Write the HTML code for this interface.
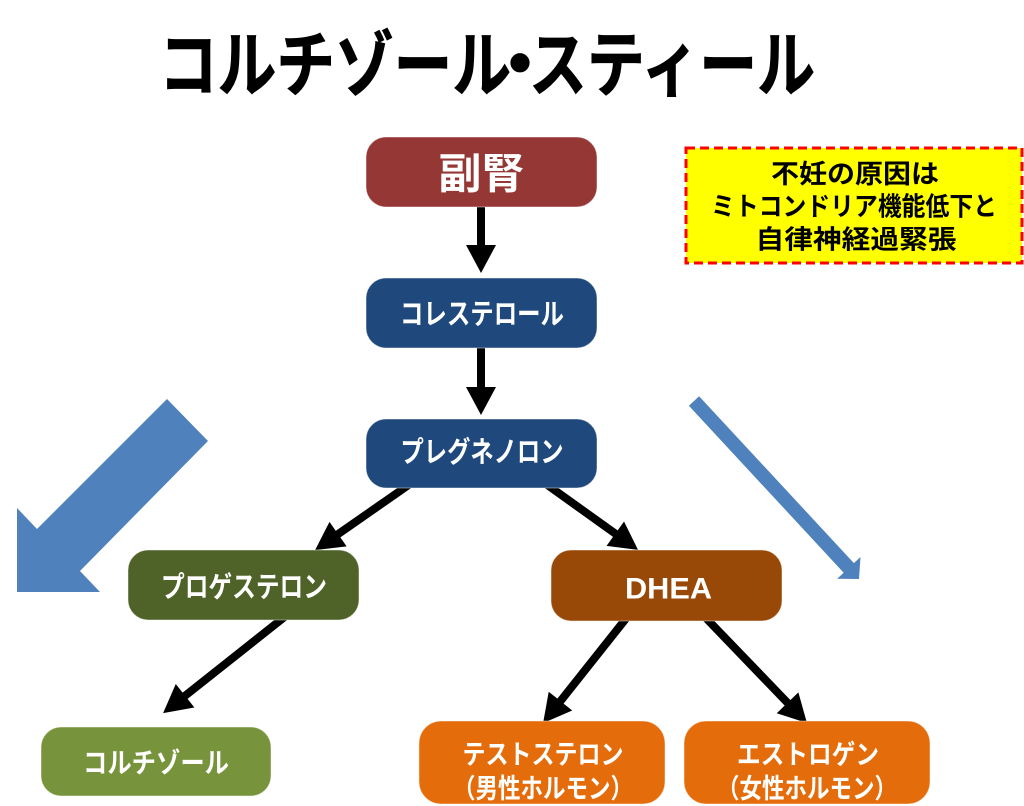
<!DOCTYPE html>
<html>
<head>
<meta charset="utf-8">
<style>
  html,body{margin:0;padding:0;background:#fff;}
  svg{display:block;}
  text{font-family:"Liberation Sans","Noto Sans CJK JP",sans-serif;font-weight:bold;}
</style>
</head>
<body>
<svg width="1024" height="806" viewBox="0 0 1024 806" xmlns="http://www.w3.org/2000/svg">
  <defs>
    <marker id="ah" markerUnits="userSpaceOnUse" markerWidth="30" markerHeight="30" refX="8" refY="15" orient="auto" overflow="visible">
      <path d="M0,0 L28,15 L0,30 Z" fill="#000"/>
    </marker>
  </defs>

  <!-- Title -->
  <g fill="#000" stroke="#000" stroke-width="0.8" font-size="72" font-weight="900" text-anchor="middle" dominant-baseline="central">
    <text x="335" y="66.5" textLength="352" lengthAdjust="spacingAndGlyphs">コルチゾール</text>
    <text x="520" y="66.5">・</text>
    <text x="672" y="66.5" textLength="286" lengthAdjust="spacingAndGlyphs">スティール</text>
  </g>

  <!-- Blue arrows -->
  <polygon points="167,399 208,441 80,571 100,592 17,592 17,508 37,529" fill="#4F81BD"/>
  <polygon points="699.1,396.2 853.9,563.1 860.5,557 859,579 837.1,578.8 843.7,572.7 688.9,405.8" fill="#4F81BD"/>

  <!-- Black connectors -->
  <g stroke="#000" stroke-width="8" fill="none" marker-end="url(#ah)">
    <line x1="481" y1="200" x2="481" y2="253"/>
    <line x1="481" y1="340" x2="481" y2="395"/>
    <line x1="410" y1="484" x2="331.5" y2="538.7"/>
    <line x1="546" y1="484" x2="621.8" y2="538.3"/>
    <line x1="287" y1="615" x2="178.8" y2="700.7"/>
    <line x1="628" y1="616" x2="555.5" y2="707.4"/>
    <line x1="704" y1="616" x2="793.1" y2="708.6"/>
  </g>

  <!-- Boxes -->
  <g stroke="rgba(255,255,255,0.45)" stroke-width="1">
    <rect x="366" y="137" width="231" height="70" rx="20" fill="#953735"/>
    <rect x="366" y="278" width="231" height="70" rx="20" fill="#1F497D"/>
    <rect x="366" y="419" width="231" height="69" rx="20" fill="#1F497D"/>
    <rect x="128" y="550" width="231" height="70" rx="20" fill="#4F6228"/>
    <rect x="551" y="550" width="231" height="71" rx="20" fill="#984807"/>
    <rect x="41" y="727" width="230" height="69" rx="20" fill="#77933C"/>
    <rect x="419" y="721" width="246" height="83" rx="22" fill="#E46C0A"/>
    <rect x="684" y="721" width="246" height="83" rx="22" fill="#E46C0A"/>
  </g>

  <!-- Box labels -->
  <g fill="#fff" text-anchor="middle" dominant-baseline="central">
    <text x="481.5" y="174" font-size="42" textLength="86" lengthAdjust="spacingAndGlyphs">副腎</text>
    <text x="482" y="315" font-size="29" textLength="164" lengthAdjust="spacingAndGlyphs">コレステロール</text>
    <text x="482" y="453" font-size="29" textLength="163" lengthAdjust="spacingAndGlyphs">プレグネノロン</text>
    <text x="244" y="588" font-size="29" textLength="166" lengthAdjust="spacingAndGlyphs">プロゲステロン</text>
    <text x="668.5" y="589" font-size="30" textLength="87" lengthAdjust="spacingAndGlyphs">DHEA</text>
    <text x="156" y="763" font-size="28" textLength="146" lengthAdjust="spacingAndGlyphs">コルチゾール</text>
    <text x="543" y="755" font-size="27" textLength="161" lengthAdjust="spacingAndGlyphs">テストステロン</text>
    <text x="543" y="789" font-size="27" textLength="180" lengthAdjust="spacingAndGlyphs">（男性ホルモン）</text>
    <text x="808" y="755" font-size="27" textLength="142" lengthAdjust="spacingAndGlyphs">エストロゲン</text>
    <text x="807" y="789" font-size="27" textLength="180" lengthAdjust="spacingAndGlyphs">（女性ホルモン）</text>
  </g>

  <!-- Yellow note -->
  <rect x="686" y="148" width="336" height="115" fill="#FFFF00" stroke="#FF0000" stroke-width="3" stroke-dasharray="9 5"/>
  <g fill="#000" text-anchor="middle" dominant-baseline="central">
    <text x="855" y="174" font-size="26" textLength="168" lengthAdjust="spacingAndGlyphs">不妊の原因は</text>
    <text x="854" y="206.5" font-size="26" textLength="286" lengthAdjust="spacingAndGlyphs">ミトコンドリア機能低下と</text>
    <text x="856" y="239.5" font-size="26" textLength="201" lengthAdjust="spacingAndGlyphs">自律神経過緊張</text>
  </g>
</svg>
</body>
</html>
